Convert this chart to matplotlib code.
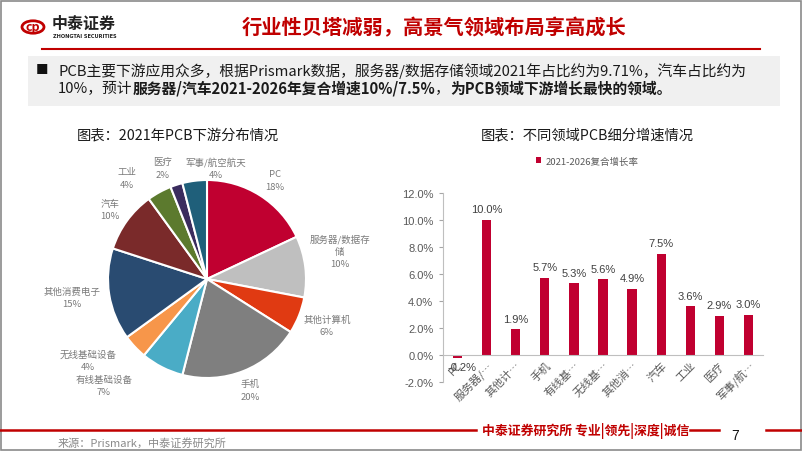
import matplotlib.pyplot as plt
from matplotlib.patches import Rectangle, Circle
from matplotlib.lines import Line2D
from matplotlib.transforms import ScaledTranslation

plt.rcParams['font.family'] = ['Noto Sans CJK SC', 'DejaVu Sans']

# pie data
pie_labels = ["PC", "服务器/数据存\n储", "其他计算机", "手机", "有线基础设备", "无线基础设备",
              "其他消费电子", "汽车", "工业", "医疗", "军事/航空航天"]
pie_share = [18, 10, 6, 20, 7, 4, 15, 10, 4, 2, 4]
pie_colors = ["#C00030", "#BFBFBF", "#E03A12", "#7F7F7F", "#4AACC6", "#F7964A",
              "#294B71", "#7A2A2A", "#5C7A2E", "#3A2C5E", "#1F5F7A"]

# bar data
bar_cats = ["PC", "服务器/…", "其他计…", "手机", "有线基…", "无线基…", "其他消…",
            "汽车", "工业", "医疗", "军事/航…"]
bar_growth = [-0.2, 10.0, 1.9, 5.7, 5.3, 5.6, 4.9, 7.5, 3.6, 2.9, 3.0]
bar_ticks = [-2, 0, 2, 4, 6, 8, 10, 12]

W, H = 802, 452
RED = "#C00000"
NUM_FONT = "Liberation Sans"
fig = plt.figure(figsize=(W / 100, H / 100), dpi=100)


def fx(x):
    return x / W


def fy(y):
    return 1 - y / H


# slide frame
fig.patches.append(Rectangle((fx(1), fy(451)), fx(800), 449 / H, transform=fig.transFigure,
                             fill=False, edgecolor="#8a8a8a", lw=1.2))

# logo
fig.patches.append(Circle((fx(33), fy(28)), 11 / W, transform=fig.transFigure,
                          fill=False, edgecolor=RED, lw=2))
fig.text(fx(33), fy(28), "cp", color=RED, fontsize=9, weight="bold", ha="center", va="center")
fig.text(fx(52), fy(24), "中泰证券", fontsize=11.5, weight="bold", color="#222222", va="center")
fig.text(fx(53), fy(36), "ZHONGTAI SECURITIES", fontsize=3.6, weight="bold", color="#222222",
         va="center", family="DejaVu Sans")

# title + rule
fig.text(fx(434), fy(28), "行业性贝塔减弱，高景气领域布局享高成长", fontsize=14.6, weight="bold",
         color=RED, ha="center", va="center")
fig.lines.append(Line2D([fx(42), fx(760)], [fy(50), fy(50)], transform=fig.transFigure,
                        color=RED, lw=1.5))

# grey box with bullet text
fig.patches.append(Rectangle((fx(28), fy(107)), fx(752), 50 / H, transform=fig.transFigure,
                             facecolor="#F0F0F0", edgecolor="none"))
fig.text(fx(42), fy(71), "■", fontsize=9, color="#111111", ha="center", va="center")

renderer = fig.canvas.get_renderer()


def rich(x, y, parts, size):
    for txt, bold in parts:
        t = fig.text(fx(x), fy(y), txt, fontsize=size, weight="bold" if bold else "normal",
                     color="#1a1a1a", va="center")
        x += t.get_window_extent(renderer=renderer).width


rich(58, 71, [("PCB主要下游应用众多，根据Prismark数据，服务器/数据存储领域2021年占比约为9.71%，汽车占比约为", False)],
     10.65)
rich(58, 89, [("10%，预计", False), ("服务器/汽车2021-2026年复合增速10%/7.5%", True), ("，", False),
              ("为PCB领域下游增长最快的领域。", True)], 10.65)

# pie chart
cx, cy, r = 207, 280, 99
ax_pie = fig.add_axes([fx(cx - r), fy(cy + r), 2 * r / W, 2 * r / H])
ax_pie.pie(pie_share, colors=pie_colors, startangle=90, counterclock=False,
           wedgeprops=dict(edgecolor="white", linewidth=1.5))
ax_pie.set_xlim(-1, 1)
ax_pie.set_ylim(-1, 1)
fig.text(fx(178), fy(135), "图表：2021年PCB下游分布情况", fontsize=10.3, color="#1a1a1a",
         ha="center", va="center")

# label anchor offsets (px from centre) - layout only
label_pos = [(68, 99), (133, 28), (120, -46), (43, -111), (-103, -106), (-119, -81),
             (-135, -18), (-97, 70), (-80, 101), (-44, 111), (9, 111)]
for name, share, (dx, dy) in zip(pie_labels, pie_share, label_pos):
    fig.text(fx(cx + dx), fy(cy - dy), f"{name}\n{share}%", fontsize=6.8, color="#7a7a7a",
             ha="center", va="center", linespacing=1.45)

# bar chart
ax = fig.add_axes([fx(443), fy(383), 320 / W, 189 / H])
xs = list(range(len(bar_cats)))
bars = ax.bar(xs, bar_growth, width=0.32, color="#C00030")
ax.set_xlim(-0.5, len(bar_cats) - 0.5)
ax.set_ylim(-2, 12)
for s in ["top", "right"]:
    ax.spines[s].set_visible(False)
ax.spines["left"].set_color("#bfbfbf")
ax.spines["bottom"].set_color("#bfbfbf")
ax.spines["bottom"].set_position(("data", 0))
ax.set_yticks(bar_ticks)
ax.set_yticklabels([f"{v:.1f}%" for v in bar_ticks], fontsize=8, color="#595959",
                   family=NUM_FONT)
ax.set_xticks(xs)
ax.set_xticklabels(bar_cats, rotation=45, ha="right", rotation_mode="anchor", fontsize=8,
                   color="#595959")
shift = ScaledTranslation(6 / 100, 0, fig.dpi_scale_trans)
for lbl in ax.get_xticklabels():
    lbl.set_transform(lbl.get_transform() + shift)
ax.tick_params(axis="x", length=0, pad=3)
ax.tick_params(axis="y", length=3, color="#a6a6a6", pad=4)
ax.patch.set_alpha(0)
for b, v in zip(bars, bar_growth):
    x = b.get_x() + b.get_width() / 2
    if v >= 0:
        ax.annotate(f"{v:.1f}%", (x, v), xytext=(0, 4), textcoords="offset points",
                    ha="center", va="bottom", fontsize=8, color="#404040", family=NUM_FONT)
    else:
        ax.annotate(f"{v:.1f}%", (x, v), xytext=(3, -3), textcoords="offset points",
                    ha="center", va="top", fontsize=8, color="#404040", family=NUM_FONT)

fig.text(fx(587), fy(135), "图表：不同领域PCB细分增速情况", fontsize=10.3, color="#1a1a1a",
         ha="center", va="center")
ax.legend([bars[0]], ["2021-2026复合增长率"], loc="center", bbox_to_anchor=(fx(587), fy(162)),
          bbox_transform=fig.transFigure, frameon=False, fontsize=6.8, handlelength=0.6,
          handleheight=0.6, handletextpad=0.4, labelcolor="#595959")

# footer
fig.lines.append(Line2D([fx(0), fx(476)], [fy(431), fy(431)], transform=fig.transFigure,
                        color=RED, lw=1.8))
fig.text(fx(482), fy(431), "中泰证券研究所 专业|领先|深度|诚信", fontsize=9.3, weight="bold",
         color=RED, va="center")
fig.lines.append(Line2D([fx(690), fx(719)], [fy(431), fy(431)], transform=fig.transFigure,
                        color=RED, lw=1.8))
fig.text(fx(735), fy(436), "7", fontsize=10, color="#111111", ha="center", va="center",
         family=NUM_FONT)
fig.lines.append(Line2D([fx(766), fx(802)], [fy(431), fy(431)], transform=fig.transFigure,
                        color=RED, lw=1.8))
fig.text(fx(58), fy(443), "来源：Prismark，中泰证券研究所", fontsize=8, color="#8a8a8a", va="center")

fig.savefig("out.png", dpi=100)
